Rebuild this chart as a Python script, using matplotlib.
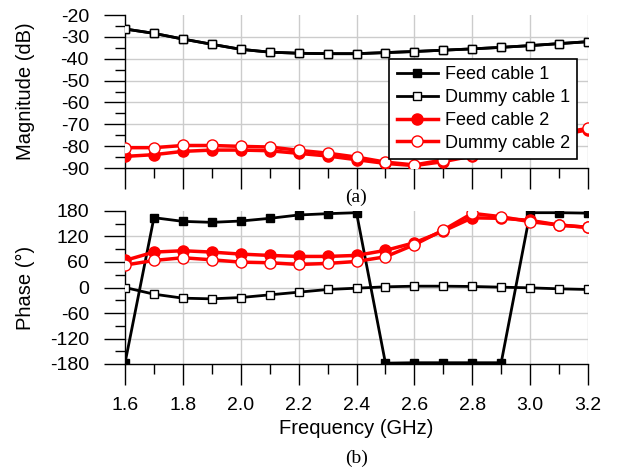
import numpy as np
import matplotlib
matplotlib.use("Agg")
import matplotlib.pyplot as plt
from matplotlib.ticker import MultipleLocator

plt.rcParams['font.family'] = ['Liberation Sans', 'DejaVu Sans']
plt.rcParams['axes.unicode_minus'] = False

freq = [1.6, 1.7, 1.8, 1.9, 2.0, 2.1, 2.2, 2.3, 2.4, 2.5, 2.6, 2.7, 2.8, 2.9, 3.0, 3.1, 3.2]

# Magnitude (dB)
mag_dummy1 = [-26.4, -28.4, -31.0, -33.4, -35.7, -37.0, -37.5, -37.7, -37.7, -37.2,
              -36.7, -36.1, -35.5, -34.8, -34.0, -33.1, -32.2]
mag_feed1 = mag_dummy1
mag_feed2 = [-84.7, -83.9, -82.4, -81.8, -81.8, -82.1, -83.3, -84.5, -86.2, -87.9,
             -88.9, -87.1, -84.5, -81.0, -78.0, -75.0, -72.5]
mag_dummy2 = [-80.7, -80.7, -79.7, -79.7, -80.1, -80.4, -81.9, -83.2, -85.0, -87.3,
              -88.6, -86.3, -84.1, -80.0, -77.0, -74.0, -71.9]

# Phase (deg)
ph_feed1 = [-178, 164.3, 155.6, 153.3, 156.4, 162.7, 170.6, 173.7, 176.0, -178,
            -177, -177, -177, -177, 176.0, 176.0, 175.0]
ph_dummy1 = [0.0, -15.7, -25.1, -26.7, -23.6, -17.3, -11.0, -4.7, -1.6, 1.6,
             3.1, 3.1, 2.4, 0.8, -0.8, -3.1, -4.7]
ph_feed2 = [63.7, 83.3, 86.5, 83.3, 78.6, 75.5, 73.1, 73.1, 75.5, 87.3,
            105.3, 132.8, 164.0, 162.7, 158.0, 147.0, 141.5]
ph_dummy2 = [52.7, 63.7, 70.0, 65.2, 59.7, 58.2, 54.2, 56.6, 61.3, 72.3,
             100.6, 135.2, 174.5, 166.6, 154.8, 147.0, 141.5]

labels = ['Feed cable 1', 'Dummy cable 1', 'Feed cable 2', 'Dummy cable 2']

W, H = 627, 470
fig = plt.figure(figsize=(W / 100, H / 100), dpi=100)

L, R = 125 / W, 588 / W
axa = fig.add_axes([L, 1 - 168 / H, R - L, (168 - 15) / H])
axb = fig.add_axes([L, 1 - 364 / H, R - L, (364 - 211) / H])

grid_c = '#cccccc'
tick_fs = 14

def style(ax, ylo, yhi, ymaj, ymin, xlab):
    ax.set_xlim(1.6, 3.2)
    ax.set_ylim(ylo, yhi)
    ax.xaxis.set_major_locator(MultipleLocator(0.2))
    ax.xaxis.set_minor_locator(MultipleLocator(0.1))
    ax.yaxis.set_major_locator(MultipleLocator(ymaj))
    ax.yaxis.set_minor_locator(MultipleLocator(ymin))
    for s in ['top', 'right']:
        ax.spines[s].set_visible(False)
    for s in ['left', 'bottom']:
        ax.spines[s].set_linewidth(1.0)
    ax.tick_params(which='major', direction='out', length=15, width=1.0, labelsize=tick_fs, pad=9)
    ax.tick_params(which='minor', direction='out', length=7, width=1.0)
    ax.tick_params(axis='y', which='major', pad=11)
    if not xlab:
        ax.tick_params(axis='x', which='both', labelbottom=False)
    # interior grid lines
    for xv in np.arange(1.8, 3.21, 0.2):
        ax.axvline(xv, color=grid_c, lw=1.0, zorder=0)
    for yv in np.arange(ylo + ymaj, yhi - 0.1, ymaj):
        ax.axhline(yv, color=grid_c, lw=1.0, zorder=0)

style(axa, -90, -20, 10, 5, False)
style(axb, -180, 180, 60, 30, True)

def plot_set(ax, f1, d1, f2, d2):
    h1, = ax.plot(freq, f1, color='black', lw=2, marker='s', ms=6, mfc='black', mec='black', mew=1, zorder=3)
    h2, = ax.plot(freq, d1, color='black', lw=2, marker='s', ms=6, mfc='white', mec='black', mew=1, zorder=4)
    h3, = ax.plot(freq, f2, color='red', lw=2.5, marker='o', ms=8, mfc='red', mec='red', mew=1, zorder=3)
    h4, = ax.plot(freq, d2, color='red', lw=2.5, marker='o', ms=8, mfc='white', mec='red', mew=1, zorder=4)
    return [h1, h2, h3, h4]

handles = plot_set(axa, mag_feed1, mag_dummy1, mag_feed2, mag_dummy2)
plot_set(axb, ph_feed1, ph_dummy1, ph_feed2, ph_dummy2)

axb.set_yticks([-180, -120, -60, 0, 60, 120, 180])
axb.set_yticklabels(['-180', '-120', '-60', '0', '60', '120', '180'])

axa.set_ylabel('Magnitude (dB)', fontsize=14.5)
axb.set_ylabel('Phase (°)', fontsize=14.5)
axb.set_xlabel('Frequency (GHz)', fontsize=14.5, labelpad=3)
axa.yaxis.set_label_coords(-0.195, 0.5)
axb.yaxis.set_label_coords(-0.195, 0.5)

leg = axa.legend(handles, labels, loc='upper right', bbox_to_anchor=(0.976, 0.712),
                 borderaxespad=0, fontsize=13, frameon=True, fancybox=False,
                 edgecolor='black', framealpha=1, handlelength=2.3, labelspacing=0.32,
                 handletextpad=0.35, borderpad=0.4)
leg.get_frame().set_linewidth(1.2)
leg.set_zorder(10)

fig.text((125 + 588) / 2 / W, 1 - 197 / H, '(a)', ha='center', va='center',
         fontsize=14, family='Liberation Serif')
fig.text((125 + 588) / 2 / W, 1 - 458 / H, '(b)', ha='center', va='center',
         fontsize=14, family='Liberation Serif')

fig.savefig('out.png', dpi=100)
